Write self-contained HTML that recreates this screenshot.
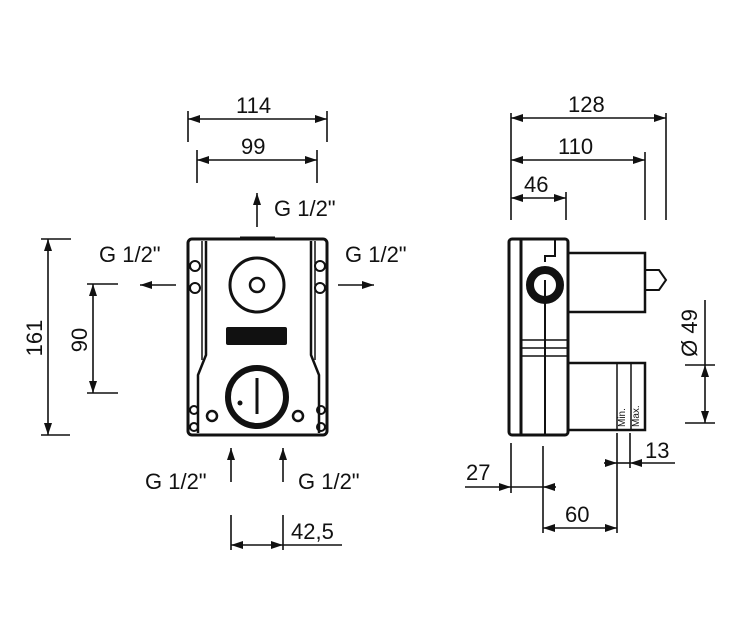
<!DOCTYPE html>
<html><head><meta charset="utf-8"><style>
html,body{margin:0;padding:0;background:#fff;}
svg{display:block;}
text{font-family:"Liberation Sans",sans-serif;font-size:22px;fill:#111;}
</style></head><body>
<svg width="750" height="622" viewBox="0 0 750 622" xmlns="http://www.w3.org/2000/svg">
<defs>
<marker id="a" viewBox="0 0 12 8" refX="12" refY="4" markerWidth="12" markerHeight="8" markerUnits="userSpaceOnUse" orient="auto-start-reverse"><path d="M0,0 L12,4 L0,8 z" fill="#111"/></marker>
</defs>
<g stroke="#111" stroke-width="1.6" fill="none">
<!-- front dims -->
<line x1="188" y1="111" x2="188" y2="142"/><line x1="327" y1="111" x2="327" y2="142"/>
<line x1="188" y1="119" x2="327" y2="119" marker-start="url(#a)" marker-end="url(#a)"/>
<line x1="197" y1="150" x2="197" y2="183"/><line x1="317" y1="150" x2="317" y2="183"/>
<line x1="197" y1="160" x2="317" y2="160" marker-start="url(#a)" marker-end="url(#a)"/>
<line x1="257" y1="227" x2="257" y2="193" marker-end="url(#a)"/>
<line x1="176" y1="285" x2="140" y2="285" marker-end="url(#a)"/>
<line x1="338" y1="285" x2="374" y2="285" marker-end="url(#a)"/>
<line x1="41" y1="239" x2="71" y2="239"/><line x1="41" y1="435" x2="70" y2="435"/>
<line x1="48" y1="239" x2="48" y2="435" marker-start="url(#a)" marker-end="url(#a)"/>
<line x1="87" y1="284" x2="118" y2="284"/><line x1="87" y1="393" x2="118" y2="393"/>
<line x1="93" y1="284" x2="93" y2="393" marker-start="url(#a)" marker-end="url(#a)"/>
<line x1="231" y1="482" x2="231" y2="448" marker-end="url(#a)"/>
<line x1="283" y1="482" x2="283" y2="448" marker-end="url(#a)"/>
<line x1="231" y1="515" x2="231" y2="550"/><line x1="283" y1="515" x2="283" y2="550"/>
<line x1="231" y1="545" x2="283" y2="545" marker-start="url(#a)" marker-end="url(#a)"/>
<line x1="283" y1="545" x2="342" y2="545"/>
<!-- side dims -->
<line x1="511" y1="113" x2="511" y2="220"/><line x1="666" y1="113" x2="666" y2="220"/>
<line x1="645" y1="152" x2="645" y2="220"/><line x1="566" y1="192" x2="566" y2="220"/>
<line x1="511" y1="118" x2="666" y2="118" marker-start="url(#a)" marker-end="url(#a)"/>
<line x1="511" y1="160" x2="645" y2="160" marker-start="url(#a)" marker-end="url(#a)"/>
<line x1="511" y1="198" x2="566" y2="198" marker-start="url(#a)" marker-end="url(#a)"/>
<line x1="685" y1="365" x2="715" y2="365"/><line x1="685" y1="423" x2="715" y2="423"/>
<line x1="705" y1="300" x2="705" y2="365"/>
<line x1="705" y1="365" x2="705" y2="423" marker-start="url(#a)" marker-end="url(#a)"/>
<line x1="511" y1="443" x2="511" y2="493"/><line x1="543" y1="446" x2="543" y2="533"/>
<line x1="465" y1="487" x2="511" y2="487" marker-end="url(#a)"/>
<line x1="511" y1="487" x2="543" y2="487"/>
<line x1="556" y1="487" x2="543" y2="487" marker-end="url(#a)"/>
<line x1="617" y1="433" x2="617" y2="533"/><line x1="630" y1="433" x2="630" y2="468"/>
<line x1="543" y1="528" x2="617" y2="528" marker-start="url(#a)" marker-end="url(#a)"/>
<line x1="604" y1="463" x2="617" y2="463" marker-end="url(#a)"/>
<line x1="617" y1="463" x2="630" y2="463"/>
<line x1="675" y1="463" x2="630" y2="463" marker-end="url(#a)"/>
</g>
<!-- front body -->
<g stroke="#111" fill="none">
<rect x="188" y="239" width="139" height="196" rx="4" stroke-width="3"/>
<line x1="240" y1="238" x2="275" y2="238" stroke-width="3"/>
<path d="M206 241 V355 L198 375 V433 M311 241 V355 L319 375 V433" stroke-width="2.5"/>
<path d="M202 241 V360 M315 241 V360" stroke-width="1.5"/>
<circle cx="195" cy="266" r="5" stroke-width="2"/><circle cx="195" cy="288" r="5" stroke-width="2"/>
<circle cx="320" cy="266" r="5" stroke-width="2"/><circle cx="320" cy="288" r="5" stroke-width="2"/>
<circle cx="194" cy="410" r="4" stroke-width="2"/><circle cx="194" cy="427" r="4" stroke-width="2"/>
<circle cx="321" cy="410" r="4" stroke-width="2"/><circle cx="321" cy="427" r="4" stroke-width="2"/>
<circle cx="257" cy="285" r="27" stroke-width="3"/>
<circle cx="257" cy="285" r="7" stroke-width="2.5"/>
<rect x="226" y="327" width="61" height="18" rx="2" fill="#111" stroke="none"/>
<circle cx="257" cy="397" r="29" stroke-width="6"/>
<line x1="257" y1="378" x2="257" y2="414" stroke-width="3"/>
<circle cx="212" cy="416" r="5" stroke-width="2.5"/><circle cx="298" cy="416" r="5" stroke-width="2.5"/>
</g>
<circle cx="240" cy="403" r="2.5" fill="#111"/>
<!-- side body -->
<g stroke="#111" fill="none">
<rect x="509" y="239" width="59" height="196" rx="3" stroke-width="3"/>
<line x1="521" y1="240" x2="521" y2="434" stroke-width="3"/>
<path d="M555 239 V256 H545 V262" stroke-width="2"/>
<line x1="545" y1="280" x2="545" y2="434" stroke-width="2"/>
<circle cx="545" cy="285" r="15" stroke-width="8"/>
<line x1="521" y1="340" x2="568" y2="340" stroke-width="1.5"/>
<line x1="521" y1="348" x2="568" y2="348" stroke-width="1.5"/>
<line x1="521" y1="356" x2="568" y2="356" stroke-width="1.5"/>
<path d="M568 253 H645 V312 H568" stroke-width="2.5"/>
<path d="M645 270 H659 L666 280 L659 290 H645" stroke-width="2"/>
<path d="M568 363 H645 V430 H568" stroke-width="2.5"/>
<line x1="617" y1="363" x2="617" y2="430" stroke-width="1.5"/>
<line x1="631" y1="363" x2="631" y2="430" stroke-width="1.5"/>
</g>
<text x="625" y="427" transform="rotate(-90 625 427)" style="font-size:10px">Min.</text>
<text x="639" y="427" transform="rotate(-90 639 427)" style="font-size:10px">Max.</text>
<!-- labels -->
<text x="236" y="113">114</text>
<text x="241" y="154">99</text>
<text x="274" y="216">G 1/2"</text>
<text x="99" y="262">G 1/2"</text>
<text x="345" y="262">G 1/2"</text>
<text x="145" y="489">G 1/2"</text>
<text x="298" y="489">G 1/2"</text>
<text x="291" y="539">42,5</text>
<text x="42" y="338" transform="rotate(-90 42 338)" text-anchor="middle">161</text>
<text x="87" y="340" transform="rotate(-90 87 340)" text-anchor="middle">90</text>
<text x="568" y="112">128</text>
<text x="558" y="154">110</text>
<text x="524" y="192">46</text>
<text x="697" y="333" transform="rotate(-90 697 333)" text-anchor="middle">Ø 49</text>
<text x="645" y="458">13</text>
<text x="466" y="480">27</text>
<text x="565" y="522">60</text>
</svg>
</body></html>
